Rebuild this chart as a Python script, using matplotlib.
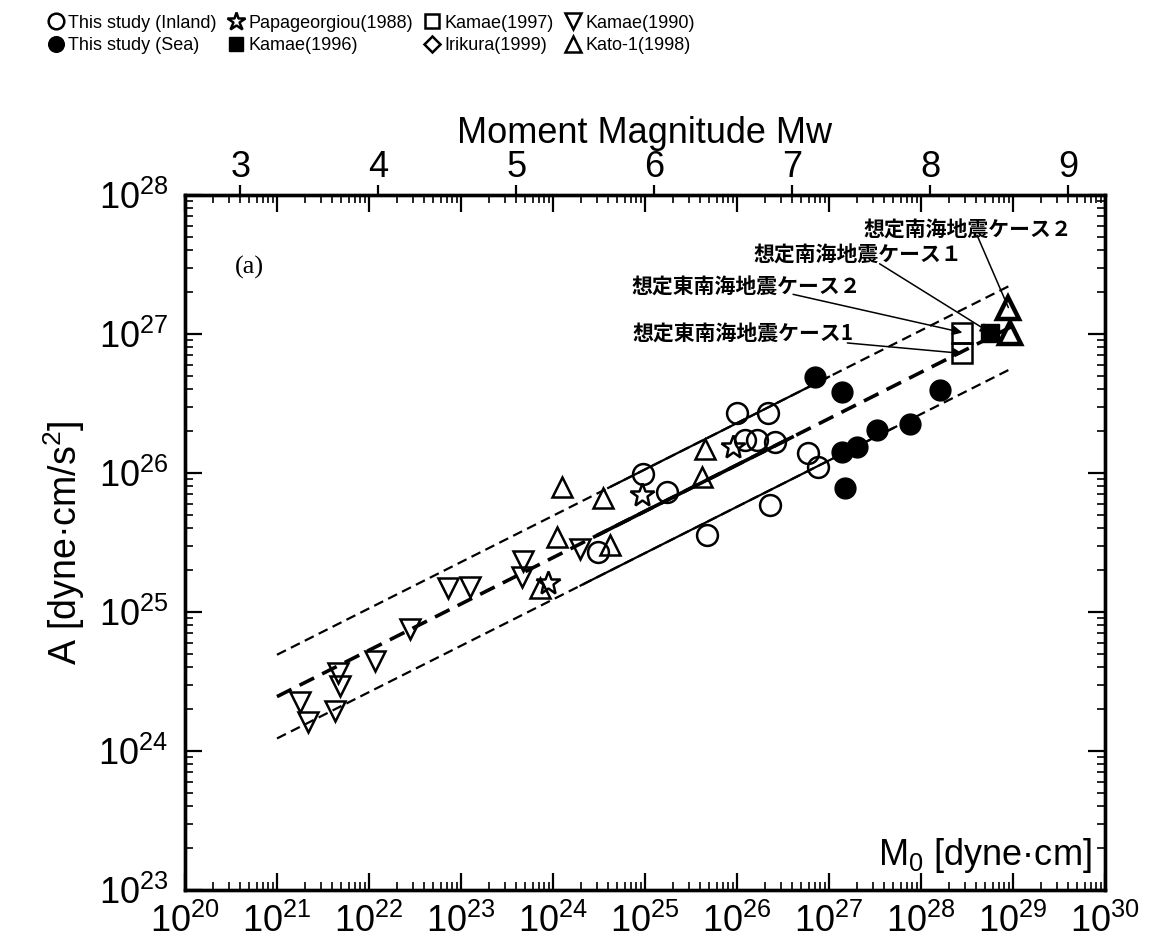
import numpy as np
import matplotlib
matplotlib.use('Agg')
import matplotlib.pyplot as plt
from matplotlib.ticker import LogLocator, NullFormatter

plt.rcParams['font.family'] = ['Liberation Sans', 'DejaVu Sans']
plt.rcParams['mathtext.default'] = 'regular'

# seismic moment M0 [dyne-cm] and acceleration source level A [dyne-cm/s^2], as log10
inland_logm0 = [24.98, 25.24, 26.00, 26.34, 26.09, 26.22, 26.41, 24.49, 25.67, 26.36, 26.77, 26.88]
inland_loga = [25.99, 25.86, 26.43, 26.43, 26.24, 26.24, 26.22, 25.43, 25.55, 25.77, 26.14, 26.04]
sea_logm0 = [26.85, 27.14, 28.21, 27.52, 27.88, 27.14, 27.30, 27.17]
sea_loga = [26.69, 26.58, 26.60, 26.31, 26.35, 26.15, 26.19, 25.89]
papa_logm0 = [23.95, 24.97, 25.96]
papa_loga = [25.21, 25.84, 26.19]
kamae96_logm0 = [28.75]
kamae96_loga = [27.01]
kamae97_logm0 = [28.45, 28.45]
kamae97_loga = [27.01, 26.86]
kamae90_logm0 = [21.25, 21.34, 21.66, 21.68, 21.63, 22.07, 22.45, 22.86, 23.10, 23.67, 23.66, 24.29]
kamae90_loga = [24.35, 24.21, 24.56, 24.47, 24.29, 24.65, 24.88, 25.17, 25.18, 25.37, 25.25, 25.45]
kato_logm0 = [24.10, 24.54, 24.04, 24.62, 23.86, 25.65, 25.62, 28.95, 28.97]
kato_loga = [25.90, 25.82, 25.54, 25.48, 25.17, 26.17, 25.97, 27.19, 27.01]

# A = 2.46e17 * M0^(1/3), with factor-of-two bounds
fit_coef = 2.46e17
fit_factors = [2.0, 1.0, 0.5]
fit_range = (21, 29)
solid_ranges = [(24.6, 27.0), (24.5, 26.6), (24.3, 27.7)]

# scenario labels: text, target (log M0, log A)
scenarios = [
    ('想定南海地震ケース２', (28.95, 27.19)),
    ('想定南海地震ケース１', (28.75, 27.01)),
    ('想定東南海地震ケース２', (28.45, 27.01)),
    ('想定東南海地震ケース1', (28.45, 26.86)),
]
scenario_text_pos = [(0.738, 0.950), (0.618, 0.914), (0.485, 0.868), (0.487, 0.799)]
scenario_line_start = [(0.861, 0.942), (0.755, 0.901), (0.661, 0.857), (0.720, 0.787)]
scenario_arrow = ['-', '-|>', '-|>', '-|>']


def mw(m0):
    return (np.log10(m0) - 16.1) / 1.5


def p(v):
    return 10.0 ** np.asarray(v)


fig = plt.figure(figsize=(11.62, 9.5), dpi=100)
ax = fig.add_axes([0.1592, 0.0632, 0.7917, 0.7316])
ax.set_xscale('log')
ax.set_yscale('log')
ax.set_xlim(1e20, 1e30)
ax.set_ylim(1e23, 1e28)

# fit lines, dashed over the full range and solid over the fitted data range
m0_fit = np.logspace(fit_range[0], fit_range[1], 100)
for fac, (s0, s1) in zip(fit_factors, solid_ranges):
    lw = 2.6 if fac == 1.0 else 1.6
    a_fit = fac * fit_coef * m0_fit ** (1.0 / 3.0)
    ax.plot(m0_fit, a_fit, color='black', lw=lw, ls=(0, (4.5, 2.5)), zorder=2)
    seg = np.logspace(s0, s1, 50)
    ax.plot(seg, fac * fit_coef * seg ** (1.0 / 3.0), color='black', lw=lw, zorder=2)

ms = 15
open_kw = dict(ls='none', mfc='none', mec='black', mew=1.8, zorder=3)
h_inland, = ax.plot(p(inland_logm0), p(inland_loga), 'o', ms=ms, **open_kw)
h_sea, = ax.plot(p(sea_logm0), p(sea_loga), 'o', ms=ms, ls='none', color='black', zorder=3)
h_papa, = ax.plot(p(papa_logm0), p(papa_loga), '*', ms=18, **open_kw)
h_k96, = ax.plot(p(kamae96_logm0), p(kamae96_loga), 's', ms=13, ls='none', color='black', zorder=3)
h_k97, = ax.plot(p(kamae97_logm0), p(kamae97_loga), 's', ms=14, **open_kw)
h_iri, = ax.plot([], [], 'D', ms=11, **open_kw)
h_k90, = ax.plot(p(kamae90_logm0), p(kamae90_loga), 'v', ms=ms, **open_kw)
h_kato, = ax.plot(p(kato_logm0[:7]), p(kato_loga[:7]), '^', ms=ms, **open_kw)
ax.plot(p(kato_logm0[7:]), p(kato_loga[7:]), '^', ms=ms + 1, ls='none', mfc='none',
        mec='black', mew=3.2, zorder=3)

# scenario annotations
for (txt, (lx, ly)), tpos, spos, style in zip(scenarios, scenario_text_pos,
                                              scenario_line_start, scenario_arrow):
    ax.text(tpos[0], tpos[1], txt, transform=ax.transAxes, ha='left', va='center',
            fontsize=15, fontweight='bold', family=['Noto Sans CJK JP', 'DejaVu Sans'])
    ax.annotate('', xy=(10 ** lx, 10 ** ly), xycoords='data',
                xytext=spos, textcoords='axes fraction',
                arrowprops=dict(arrowstyle=style, color='black', lw=1.1,
                                shrinkA=0, shrinkB=0, mutation_scale=14),
                zorder=4)

ax.text(0.07, 0.895, '(a)', transform=ax.transAxes, fontsize=19,
        family='Liberation Serif', ha='center', va='center')
ax.text(0.985, 0.05, 'M$_0$ [dyne·cm]', transform=ax.transAxes, fontsize=26,
        ha='right', va='center')
ax.set_ylabel('A [dyne·cm/s$^2$]', fontsize=27, labelpad=8)

# ticks on M0 / A axes
ax.xaxis.set_major_locator(LogLocator(base=10, numticks=20))
ax.xaxis.set_minor_locator(LogLocator(base=10, subs=np.arange(2, 10), numticks=200))
ax.xaxis.set_minor_formatter(NullFormatter())
ax.yaxis.set_major_locator(LogLocator(base=10, numticks=20))
ax.yaxis.set_minor_locator(LogLocator(base=10, subs=np.arange(2, 10), numticks=200))
ax.yaxis.set_minor_formatter(NullFormatter())

# moment magnitude axis on top
ax2 = ax.twiny()
ax2.set_xlim(mw(1e20), mw(1e30))
ax2.set_xticks(np.arange(3, 10))
ax2.tick_params(axis='x', direction='out', length=7, width=1.6, labelsize=26, pad=0)
ax2.set_xlabel('Moment Magnitude Mw', fontsize=26, labelpad=5)

ax.tick_params(which='both', direction='in', top=True, right=True, labeltop=False)
ax.tick_params(which='major', length=12, width=1.6, labelsize=26)
ax.tick_params(which='minor', length=6, width=1.2)
ax.tick_params(axis='x', which='major', pad=10)
ax.tick_params(axis='y', which='major', pad=12)
for a in (ax, ax2):
    for s in a.spines.values():
        s.set_linewidth(2.4)

handles = [h_inland, h_sea, h_papa, h_k96, h_k97, h_iri, h_k90, h_kato]
labels = ['This study (Inland)', 'This study (Sea)', 'Papageorgiou(1988)', 'Kamae(1996)',
          'Kamae(1997)', 'Irikura(1999)', 'Kamae(1990)', 'Kato-1(1998)']
fig.legend(handles, labels, loc='upper left', bbox_to_anchor=(0.030, 0.998), ncol=4,
           frameon=False, fontsize=13, markerscale=0.75, handlelength=0.9,
           handletextpad=0.25, columnspacing=0.6, labelspacing=0.3, borderpad=0.2)

fig.savefig('out.png', dpi=100, facecolor='white')
